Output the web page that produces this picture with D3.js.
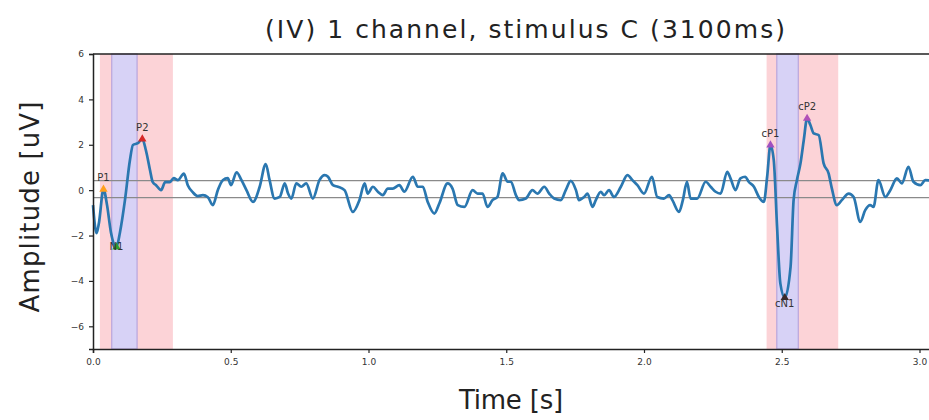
<!DOCTYPE html>
<html><head><meta charset="utf-8">
<script src="https://cdn.jsdelivr.net/npm/d3@7"></script>
<style>body{margin:0;background:#fff;} svg{display:block;font-family:"DejaVu Sans",sans-serif;}</style>
</head><body>
<svg id="c" width="929" height="420"></svg>
<script>
const title = "(IV) 1 channel, stimulus C (3100ms)";
const xLabel = "Time [s]";
const yLabel = "Amplitude [uV]";
const xTicks = [0, 0.5, 1.0, 1.5, 2.0, 2.5, 3.0];
const yTicks = [-6, -4, -2, 0, 2, 4, 6];
const xDomain = [0, 3.14];
const yDomain = [-7, 6];
const thresholds = [0.42, -0.33];
// shaded windows [start, end] in seconds
const pinkWindows = [[0.025, 0.29], [2.445, 2.705]];
const blueWindows = [[0.068, 0.160], [2.482, 2.560]];
const time = [0.000,0.013,0.022,0.038,0.051,0.065,0.085,0.098,0.116,0.134,0.145,0.163,0.179,0.192,0.207,0.217,0.229,0.247,0.262,0.278,0.293,0.308,0.330,0.344,0.362,0.380,0.399,0.417,0.435,0.453,0.471,0.489,0.501,0.521,0.539,0.557,0.581,0.605,0.627,0.641,0.659,0.678,0.696,0.708,0.720,0.738,0.756,0.774,0.798,0.822,0.841,0.853,0.871,0.889,0.913,0.943,0.967,0.986,0.997,1.016,1.034,1.052,1.070,1.088,1.112,1.130,1.161,1.179,1.197,1.215,1.239,1.257,1.287,1.305,1.324,1.348,1.378,1.396,1.414,1.432,1.450,1.468,1.487,1.505,1.517,1.535,1.547,1.571,1.595,1.613,1.638,1.656,1.674,1.698,1.716,1.734,1.753,1.764,1.783,1.795,1.813,1.825,1.843,1.855,1.873,1.891,1.916,1.940,1.958,1.976,2.000,2.029,2.048,2.072,2.091,2.103,2.127,2.141,2.156,2.169,2.193,2.224,2.242,2.260,2.278,2.302,2.314,2.332,2.350,2.368,2.380,2.399,2.417,2.435,2.447,2.459,2.471,2.483,2.495,2.511,2.532,2.543,2.555,2.568,2.580,2.592,2.604,2.616,2.634,2.652,2.670,2.682,2.700,2.718,2.743,2.761,2.785,2.803,2.821,2.833,2.851,2.876,2.894,2.918,2.936,2.960,2.978,3.003,3.021,3.050,3.080,3.110];
const amplitude = [-0.66,-1.90,-1.41,0.04,-0.66,-1.85,-2.51,-1.85,-0.44,1.32,1.99,2.07,2.25,1.76,0.88,0.35,0.22,0.00,0.35,0.35,0.53,0.44,0.73,0.22,-0.09,-0.26,-0.22,-0.31,-0.66,0.00,0.44,0.53,0.22,0.79,0.44,0.00,-0.52,0.15,1.15,0.44,-0.37,-0.30,0.30,-0.15,-0.37,0.30,0.15,0.30,-0.37,0.44,0.66,0.59,0.22,0.15,0.00,-0.96,-0.44,0.30,-0.15,0.15,-0.07,-0.22,0.07,0.07,0.22,-0.07,0.59,0.15,0.15,-0.52,-1.03,-0.59,0.30,0.07,-0.66,-0.74,0.00,-0.15,-0.15,-0.74,-0.44,-0.30,0.74,0.37,0.37,-0.22,-0.44,-0.37,0.00,-0.15,0.15,-0.15,-0.37,-0.44,0.00,0.41,0.00,-0.44,-0.30,-0.15,-0.74,-0.44,-0.07,-0.22,0.00,-0.30,0.15,0.66,0.44,0.22,-0.15,0.59,-0.30,-0.37,-0.22,-0.44,-0.96,-0.44,0.37,-0.37,-0.37,0.37,0.15,-0.07,-0.15,0.81,0.52,0.00,0.52,0.59,0.37,0.15,-0.30,-0.52,0.59,1.99,1.32,-1.62,-4.12,-4.74,-3.38,-0.44,0.44,1.18,2.21,3.16,2.87,2.50,2.43,1.18,0.74,0.07,-0.66,-0.44,-0.15,-0.30,-1.40,-0.88,-0.66,-0.74,0.44,-0.30,0.00,0.52,0.30,1.03,0.37,0.22,0.44,0.40,0.30,0.40];
const peakNames = ["P1", "N1", "P2", "cP1", "cN1", "cP2"];
const peakTimes = [0.038, 0.085, 0.179, 2.459, 2.511, 2.592];
const peakValues = [0.04, -2.51, 2.25, 1.99, -4.74, 3.16];
const peakColors = ["#ff9f1c", "#2ca02c", "#d62728", "#a050c0", "#3a2a2a", "#b050b8"];

const svg = d3.select("#c");
const L = 93, T = 54, B = 349;
const x = d3.scaleLinear().domain(xDomain).range([L, L + 3.14 * 275.5]);
const y = d3.scaleLinear().domain(yDomain).range([B, T]);
const R = x.range()[1];

const g = svg.append("g");
pinkWindows.forEach(w => g.append("rect").attr("x", x(w[0])).attr("y", T).attr("width", x(w[1]) - x(w[0])).attr("height", B - T).attr("fill", "#fcd3d7"));
blueWindows.forEach(w => g.append("rect").attr("x", x(w[0])).attr("y", T).attr("width", x(w[1]) - x(w[0])).attr("height", B - T).attr("fill", "#d7d2f6").attr("stroke", "#b9a6dc").attr("stroke-width", 1.2));

thresholds.forEach(v => g.append("line").attr("x1", L).attr("x2", R).attr("y1", y(v)).attr("y2", y(v)).attr("stroke", "#8a8a8a").attr("stroke-width", 1.3));

const line = d3.line().x((d, i) => x(time[i])).y(d => y(d)).curve(d3.curveMonotoneX);
g.append("path").attr("d", line(amplitude)).attr("fill", "none").attr("stroke", "#2a77b0").attr("stroke-width", 2.7).attr("stroke-linejoin", "round");

const tri = d3.symbol().type(d3.symbolTriangle).size(30);
const labelDy = {P1: -8, N1: 3, P2: -8, cP1: -8, cN1: 9, cP2: -8};
peakNames.forEach((n, i) => {
  const px = x(peakTimes[i]), py = y(peakValues[i]);
  g.append("path").attr("d", tri()).attr("transform", `translate(${px},${py})`).attr("fill", peakColors[i]);
  g.append("text").attr("x", px).attr("y", py + labelDy[n])
    .attr("text-anchor", "middle").attr("font-size", 10).attr("fill", "#333").text(n);
});

const fmtY = v => (v < 0 ? "\u2212" + Math.abs(v) : String(v));
const xa = svg.append("g").attr("transform", `translate(0,${B})`)
  .call(d3.axisBottom(x).tickValues(xTicks).tickFormat(d3.format(".1f")).tickSizeOuter(0).tickSize(4).tickPadding(6));
const ya = svg.append("g").attr("transform", `translate(${L},0)`)
  .call(d3.axisLeft(y).tickValues(yTicks).tickFormat(fmtY).tickSizeOuter(0).tickSize(4).tickPadding(5));
[xa, ya].forEach(a => {
  a.selectAll("text").attr("font-size", 9).attr("fill", "#333").attr("font-family", "DejaVu Sans");
  a.selectAll("line").attr("stroke", "#222").attr("stroke-width", 1.2);
  a.select(".domain").attr("stroke", "#222").attr("stroke-width", 1.5);
});
svg.append("line").attr("x1", L).attr("x2", R).attr("y1", T).attr("y2", T).attr("stroke", "#222").attr("stroke-width", 1.5);
svg.append("line").attr("x1", R).attr("x2", R).attr("y1", T).attr("y2", B).attr("stroke", "#222").attr("stroke-width", 1.5);

function fit(sel, target) {
  const t = sel.text();
  const len = sel.node().getComputedTextLength();
  const ls = (target - len) / t.length;
  sel.attr("letter-spacing", ls).attr("x", +sel.attr("x") + ls / 2);
  return sel;
}
fit(svg.append("text").attr("x", 525).attr("y", 38).attr("text-anchor", "middle").attr("font-size", 25).attr("fill", "#222").text(title), 522);
fit(svg.append("text").attr("x", 511).attr("y", 409).attr("text-anchor", "middle").attr("font-size", 26).attr("fill", "#222").text(xLabel), 104);
fit(svg.append("text").attr("x", 0).attr("transform", "translate(39,207) rotate(-90)").attr("text-anchor", "middle").attr("font-size", 26).attr("fill", "#222").text(yLabel), 212);
</script>
</body></html>
